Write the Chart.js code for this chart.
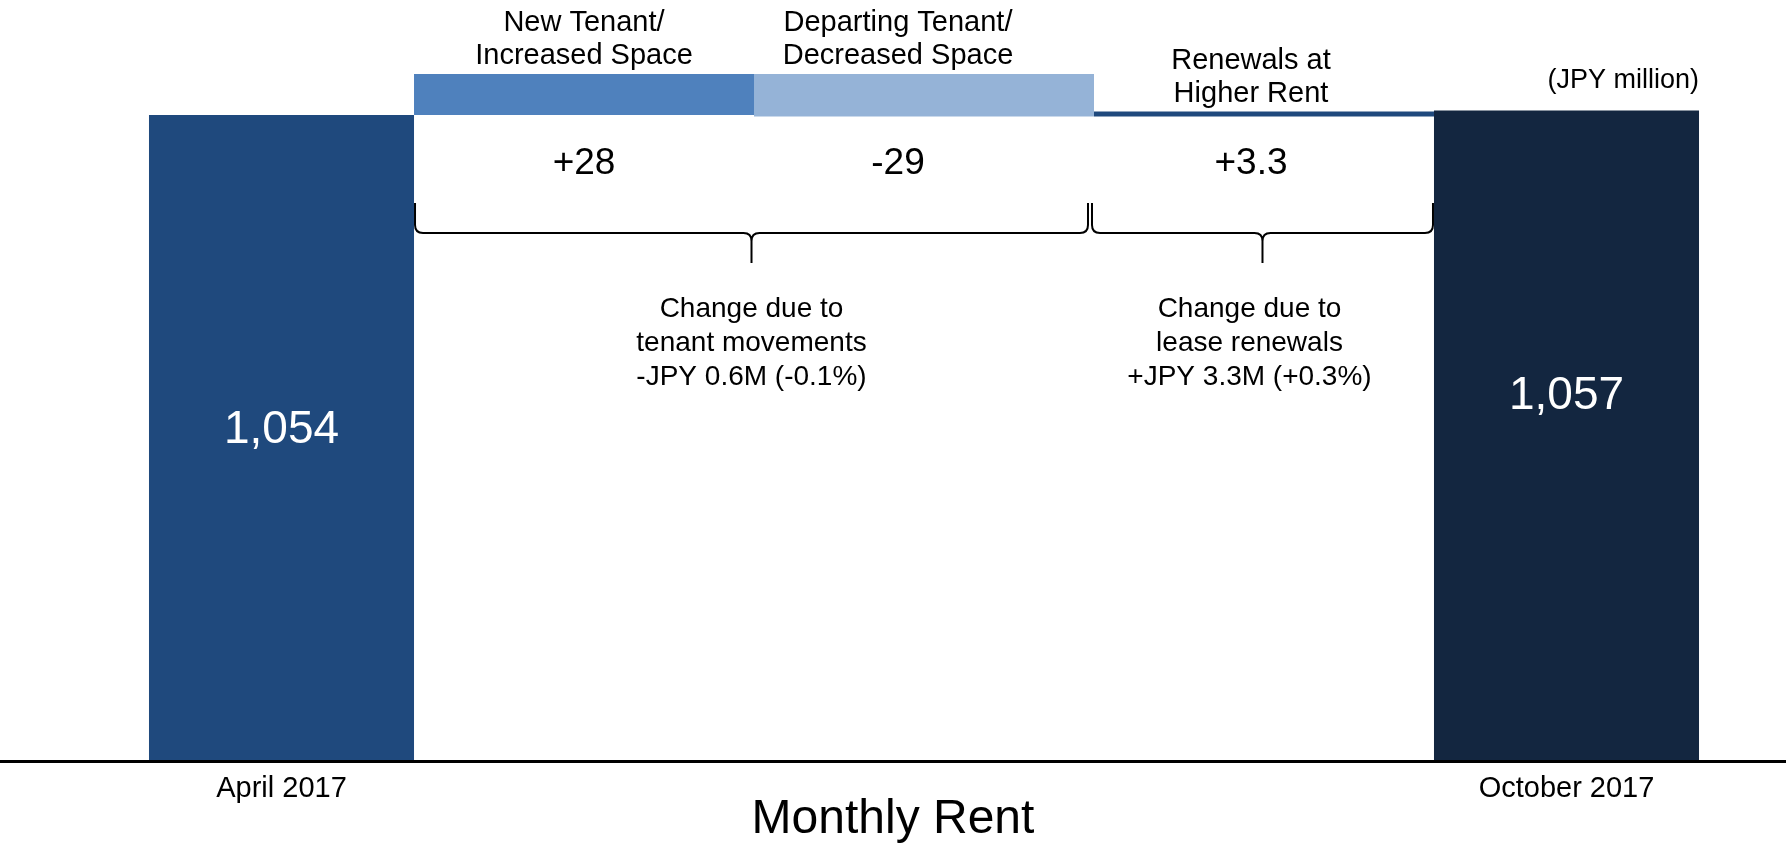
<!DOCTYPE html>
<html>
<head>
<meta charset="utf-8">
<script src="https://cdn.jsdelivr.net/npm/chart.js@4.4.1/dist/chart.umd.min.js"></script>
<style>
  html, body { margin: 0; padding: 0; background: #fff; }
  #wrap { width: 1786px; height: 844px; position: relative; }
</style>
</head>
<body>
<div id="wrap"><canvas id="myChart"></canvas></div>
<script>
"use strict";
// monthly rent, JPY million
var periods = ["April 2017", "October 2017"];
var rentTotals = [1054, 1057];

// changes between the two periods
var changeNames = [["New Tenant/", "Increased Space"], ["Departing Tenant/", "Decreased Space"], ["Renewals at", "Higher Rent"]];
var changeValues = [28, -29, 3.3];
var changeText = ["+28", "-29", "+3.3"];
var changeColors = ["#4f81bd", "#95b3d7", "#1f497d"];

// braces under the changes: which changes they cover and what they say
var groupMembers = [[0, 1], [2]];
var groupText = [
    ["Change due to", "tenant movements", "-JPY 0.6M (-0.1%)"],
    ["Change due to", "lease renewals", "+JPY 3.3M (+0.3%)"]
];
var unitText = "(JPY million)";
var axisTitle = "Monthly Rent";

(function () {
    var FONT = "'Liberation Sans', Arial, sans-serif";
    Chart.defaults.font.family = FONT;
    Chart.defaults.color = "#000";

    var Y_MIN = 613.4;
    var Y_MAX = 1132.5;

    // three slots: start total, the changes, end total
    var labels = [periods[0], "", periods[1]];

    var datasets = [{
        label: "Monthly Rent",
        data: [rentTotals[0], null, rentTotals[1]],
        backgroundColor: ["#1f497d", "#1f497d", "#132640"],
        base: Y_MIN,
        grouped: false,
        barPercentage: 0.4125,
        categoryPercentage: 1,
        clip: false
    }];
    var running = rentTotals[0];
    changeValues.forEach(function (v, i) {
        var from = running;
        running = running + v;
        datasets.push({
            label: changeNames[i].join(" "),
            data: [null, [from, running], null],
            backgroundColor: changeColors[i],
            barPercentage: 1,
            categoryPercentage: 1.5875,
            clip: false
        });
    });

    // small left nudges seen on some labels in the original
    var textShift = [0, -26, -13];
    var totalTextY = [443, 409];

    var annotations = {
        id: "annotations",
        afterDatasetsDraw: function (chart) {
            var ctx = chart.ctx;
            var area = chart.chartArea;
            ctx.save();

            // base line across the whole picture
            ctx.strokeStyle = "#000";
            ctx.lineWidth = 3;
            ctx.beginPath();
            ctx.moveTo(0, area.bottom + 1.5);
            ctx.lineTo(chart.width, area.bottom + 1.5);
            ctx.stroke();

            ctx.fillStyle = "#000";
            ctx.textAlign = "center";
            ctx.textBaseline = "alphabetic";

            var bars = changeValues.map(function (v, i) {
                var el = chart.getDatasetMeta(i + 1).data[1];
                return {
                    left: el.x - el.width / 2,
                    right: el.x + el.width / 2,
                    x: el.x,
                    top: Math.min(el.y, el.base)
                };
            });

            bars.forEach(function (b, i) {
                var lines = changeNames[i];
                ctx.font = "29px " + FONT;
                lines.forEach(function (t, k) {
                    var y = b.top - 10 - (lines.length - 1 - k) * 33;
                    ctx.fillText(t, b.x + textShift[i], y);
                });
                ctx.font = "37px " + FONT;
                ctx.fillText(changeText[i], b.x + textShift[i], 174);
            });

            // braces
            ctx.lineWidth = 2;
            groupMembers.forEach(function (members, g) {
                var x0 = bars[members[0]].left + (g === 0 ? 1 : -2);
                var x1 = bars[members[members.length - 1]].right - (g === 0 ? 6 : 1);
                var mid = (x0 + x1) / 2;
                var yTop = 203, yLine = 233, yTip = 263, r = 8;
                ctx.beginPath();
                ctx.moveTo(x0, yTop);
                ctx.lineTo(x0, yLine - r);
                ctx.quadraticCurveTo(x0, yLine, x0 + r, yLine);
                ctx.lineTo(mid - r, yLine);
                ctx.quadraticCurveTo(mid, yLine, mid, yLine + r);
                ctx.lineTo(mid, yTip);
                ctx.moveTo(mid, yLine + r);
                ctx.quadraticCurveTo(mid, yLine, mid + r, yLine);
                ctx.lineTo(x1 - r, yLine);
                ctx.quadraticCurveTo(x1, yLine, x1, yLine - r);
                ctx.lineTo(x1, yTop);
                ctx.stroke();

                ctx.font = "28px " + FONT;
                groupText[g].forEach(function (t, k) {
                    ctx.fillText(t, mid + (g === 0 ? 0 : -13), 317 + k * 34.2);
                });
            });

            // totals inside their bars
            var totMeta = chart.getDatasetMeta(0);
            ctx.fillStyle = "#fff";
            ctx.font = "46px " + FONT;
            [0, 2].forEach(function (idx, k) {
                var el = totMeta.data[idx];
                ctx.fillText(rentTotals[k].toLocaleString("en-US"), el.x, totalTextY[k]);
            });

            // unit note, right aligned on the last bar
            var last = totMeta.data[2];
            ctx.fillStyle = "#000";
            ctx.textAlign = "right";
            ctx.font = "27px " + FONT;
            ctx.fillText(unitText, last.x + last.width / 2, 88);

            ctx.restore();
        }
    };

    var ctx = document.getElementById("myChart").getContext("2d");
    var chart = new Chart(ctx, {
        type: "bar",
        data: {
            labels: labels,
            datasets: datasets
        },
        options: {
            responsive: true,
            maintainAspectRatio: false,
            animation: false,
            devicePixelRatio: 1,
            layout: {
                padding: 0
            },
            plugins: {
                legend: { display: false },
                tooltip: { enabled: false },
                title: {
                    display: true,
                    position: "bottom",
                    text: axisTitle,
                    color: "#000",
                    font: { size: 48, weight: "normal", lineHeight: 0.5 },
                    padding: { top: 0, bottom: 12 }
                }
            },
            scales: {
                x: {
                    offset: false,
                    stacked: false,
                    grid: { display: false, drawTicks: false },
                    border: { display: false },
                    ticks: {
                        autoSkip: false,
                        maxRotation: 0,
                        padding: 12,
                        font: { size: 29 },
                        color: "#000"
                    },
                    afterFit: function (scale) { scale.height = 48; }
                },
                y: {
                    position: "left",
                    stacked: false,
                    min: Y_MIN,
                    max: Y_MAX,
                    grid: { display: false, drawTicks: false },
                    border: { display: false },
                    ticks: { display: false },
                    afterFit: function (scale) { scale.width = 281.5; }
                },
                yRight: {
                    type: "linear",
                    position: "right",
                    grid: { display: false, drawTicks: false },
                    border: { display: false },
                    ticks: { display: false },
                    afterFit: function (scale) { scale.width = 219.5; }
                }
            }
        },
        plugins: [annotations]
    });
})();
</script>
</body>
</html>
